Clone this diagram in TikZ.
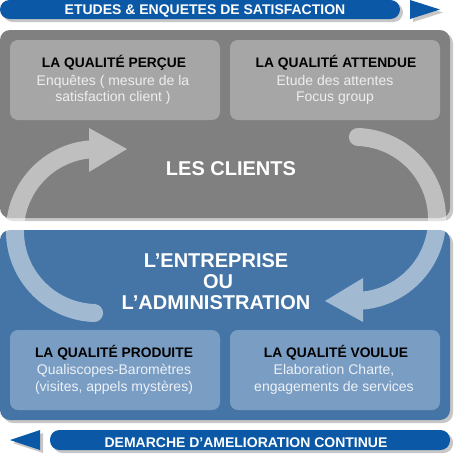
\documentclass[tikz,border=0pt]{standalone}
\usepackage{fontspec}
\setmainfont{Liberation Sans}
\usetikzlibrary{shadows}
\definecolor{bannerblue}{RGB}{10,88,166}
\definecolor{panelgray}{RGB}{128,128,128}
\definecolor{boxgray}{RGB}{166,166,166}
\definecolor{panelblue}{RGB}{68,117,166}
\definecolor{boxblue}{RGB}{122,157,195}
\definecolor{lightgraytext}{RGB}{238,238,238}
\definecolor{lightbluetext}{RGB}{236,241,247}
\tikzset{
  shad/.style={drop shadow={shadow xshift=3pt, shadow yshift=-3pt, fill=black, opacity=0.22}},
  panel/.style={shad, rounded corners=10pt, inner sep=0pt},
  innerbox/.style={rounded corners=8pt, inner sep=0pt},
  banner/.style={shad, fill=bannerblue, rounded corners=9.5pt, inner sep=0pt},
  bannertip/.style={shad, fill=bannerblue},
  bannertext/.style={text=white, font=\fontsize{14}{16}\selectfont\bfseries, anchor=base, inner sep=0pt},
  boxtitle/.style={text=black, font=\fontsize{13.8}{16}\selectfont\bfseries, anchor=base, inner sep=0pt},
  boxline/.style={font=\fontsize{14}{16}\selectfont, anchor=base, inner sep=0pt},
  bigtext/.style={text=white, font=\fontsize{20}{22}\selectfont\bfseries, anchor=base, inner sep=0pt},
  cyclearrow/.style={white, line width=18pt, line cap=round},
}
\begin{document}
\begin{tikzpicture}[x=1pt,y=-1pt]
\useasboundingbox (0,0) rectangle (458,458);
\fill[white] (0,0) rectangle (458,458);

% top banner
\path[banner] (0,0) rectangle (400,19);
\coordinate (topb) at (205,14);
\node[bannertext] (toptext) at (topb) {ETUDES \& ENQUETES DE SATISFACTION};
\path[bannertip] (410,0) -- (440,9.5) -- (410,19) -- cycle;

% panels
\path[panel, fill=panelgray] (0,30) rectangle (450,218);
\path[panel, fill=panelblue] (0,230) rectangle (450,420);

% inner boxes
\node[innerbox, fill=boxgray, minimum width=210pt, minimum height=80pt] (percue) at (115,80) {};
\node[innerbox, fill=boxgray, minimum width=210pt, minimum height=80pt] (attendue) at (335,80) {};
\node[innerbox, fill=boxblue, minimum width=210pt, minimum height=80pt] (produite) at (115,370) {};
\node[innerbox, fill=boxblue, minimum width=210pt, minimum height=80pt] (voulue) at (335,370) {};

\node[boxtitle] (t1) at (114,67) {LA QUALITÉ PERÇUE};
\node[boxline, text=lightgraytext] (t1a) at (113,85) {Enquêtes ( mesure de la};
\node[boxline, text=lightgraytext] (t1b) at (113,101) {satisfaction client )};

\node[boxtitle] (t2) at (336,67) {LA QUALITÉ ATTENDUE};
\node[boxline, text=lightgraytext] (t2a) at (335,85) {Etude des attentes};
\node[boxline, text=lightgraytext] (t2b) at (335,101) {Focus group};

\node[boxtitle] (t3) at (114,357) {LA QUALITÉ PRODUITE};
\node[boxline, text=lightbluetext] (t3a) at (114,374) {Qualiscopes-Baromètres};
\node[boxline, text=lightbluetext] (t3b) at (114,391) {(visites, appels mystères)};

\node[boxtitle] (t4) at (336,357) {LA QUALITÉ VOULUE};
\node[boxline, text=lightbluetext] (t4a) at (334,374) {Elaboration Charte,};
\node[boxline, text=lightbluetext] (t4b) at (334,391) {engagements de services};

% big labels
\node[bigtext] (clients) at (231,175) {LES CLIENTS};
\node[bigtext] (ent1) at (216,267) {L’ENTREPRISE};
\node[bigtext] (ent2) at (218,288) {OU};
\node[bigtext] (ent3) at (216,309) {L’ADMINISTRATION};

% cycle arrows
\begin{scope}[transparency group, opacity=0.5]
  \draw[cyclearrow] (94.1,313) arc[start angle=92, end angle=264, radius=82];
  \fill[white] (89,128) -- (127,149) -- (89,172) -- cycle;
\end{scope}
\begin{scope}[rotate around={180:(226,225)}]
\begin{scope}[transparency group, opacity=0.5]
  \draw[cyclearrow] (94.1,313) arc[start angle=92, end angle=264, radius=82];
  \fill[white] (89,128) -- (127,149) -- (89,172) -- cycle;
\end{scope}
\end{scope}

% bottom banner
\path[banner] (50,430) rectangle (450,450);
\node[bannertext] (bottext) at (246,447) {DEMARCHE D’AMELIORATION CONTINUE};
\path[bannertip] (40,430) -- (10,440) -- (40,450) -- cycle;
\end{tikzpicture}
\end{document}
